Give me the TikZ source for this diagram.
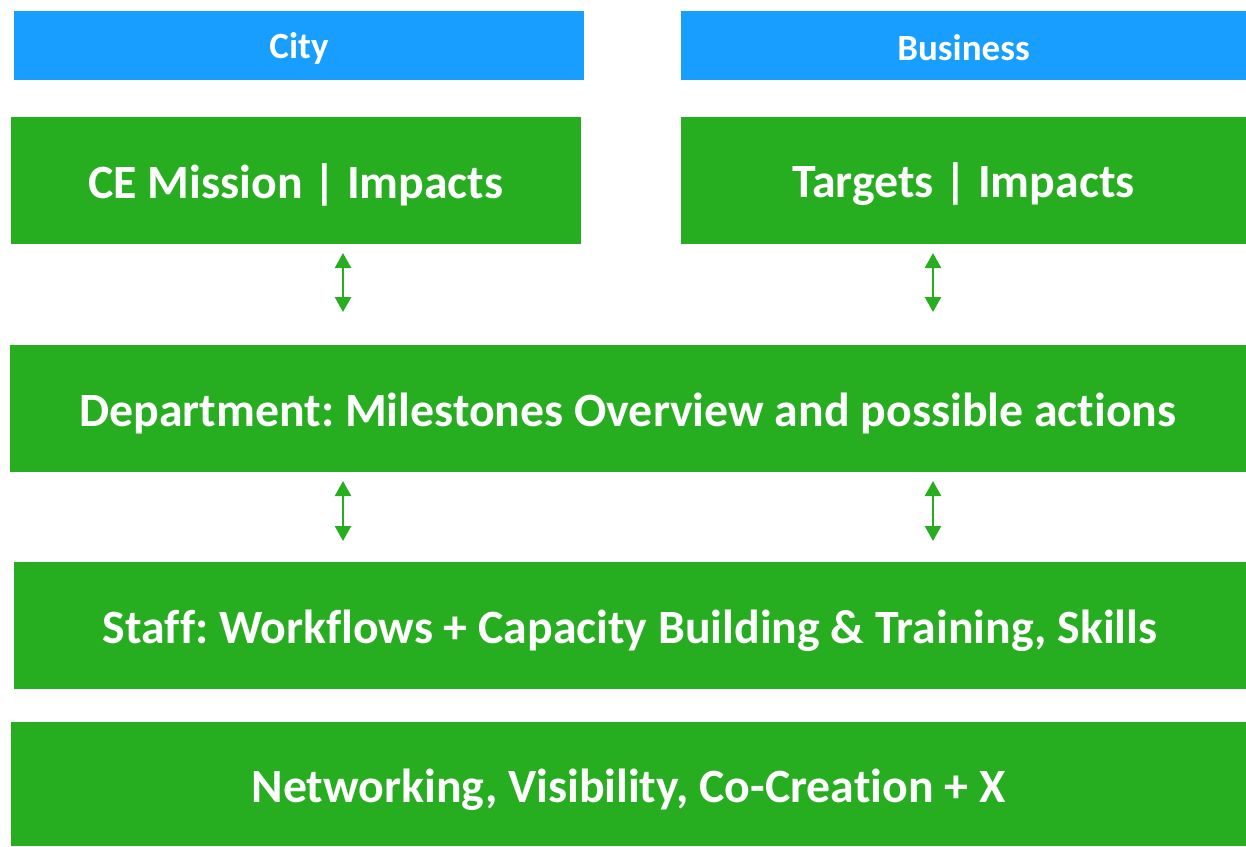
\documentclass[tikz,border=0pt]{standalone}
\usepackage{fontspec}
\setmainfont[Ligatures=NoCommon]{Carlito}
\frenchspacing
\usetikzlibrary{arrows.meta}
\definecolor{hdrblue}{RGB}{24,158,255}
\definecolor{boxgreen}{RGB}{38,173,32}
\newcommand{\lowertext}[2]{\raisebox{-#1}[\height][\depth]{#2}}
\tikzset{
  hdr/.style={fill=hdrblue, inner sep=0pt, outer sep=0pt, text=white, font=\fontsize{37}{42}\selectfont\bfseries},
  gbox/.style={fill=boxgreen, inner sep=0pt, outer sep=0pt, text=white, font=\fontsize{47.8}{56}\selectfont\bfseries},
  biarrow/.style={draw=boxgreen, line width=2.5pt, {Triangle[width=16pt,length=15pt]}-{Triangle[width=16pt,length=15pt]}}
}
\begin{document}
\begin{tikzpicture}[x=1pt,y=-1pt]
\useasboundingbox (0,0) rectangle (1246,846);
\node[hdr, minimum width=570pt, minimum height=69pt] (city) at (299,45.5) {\lowertext{3pt}{City}};
\node[hdr, minimum width=565pt, minimum height=69pt] (bus) at (963.5,45.5) {\lowertext{2pt}{Business}};
\node[gbox, minimum width=570pt, minimum height=127pt] (cem) at (296,180.5) {\lowertext{4pt}{CE Mission | Impacts}};
\node[gbox, minimum width=565pt, minimum height=127pt] (tgt) at (963.5,180.5) {\lowertext{4pt}{Targets | Impacts}};
\node[gbox, minimum width=1236pt, minimum height=127pt] (dept) at (628,408.5) {\lowertext{5pt}{Department: Milestones Overview and possible actions}};
\node[gbox, minimum width=1232pt, minimum height=127pt] (staff) at (630,625.5) {\lowertext{5pt}{Staff: Workflows + Capacity Building \& Training, Skills}};
\node[gbox, minimum width=1235pt, minimum height=124pt] (net) at (628.5,784) {\lowertext{6pt}{Networking, Visibility, Co-Creation + X}};
\coordinate (xa) at (343,0);
\coordinate (xb) at (933,0);
\draw[biarrow, shorten <=9pt, shorten >=33pt] (cem.south -| xa) -- (dept.north -| xa);
\draw[biarrow, shorten <=9pt, shorten >=33pt] (tgt.south -| xb) -- (dept.north -| xb);
\draw[biarrow, shorten <=9pt, shorten >=21pt] (dept.south -| xa) -- (staff.north -| xa);
\draw[biarrow, shorten <=9pt, shorten >=21pt] (dept.south -| xb) -- (staff.north -| xb);
\end{tikzpicture}
\end{document}
